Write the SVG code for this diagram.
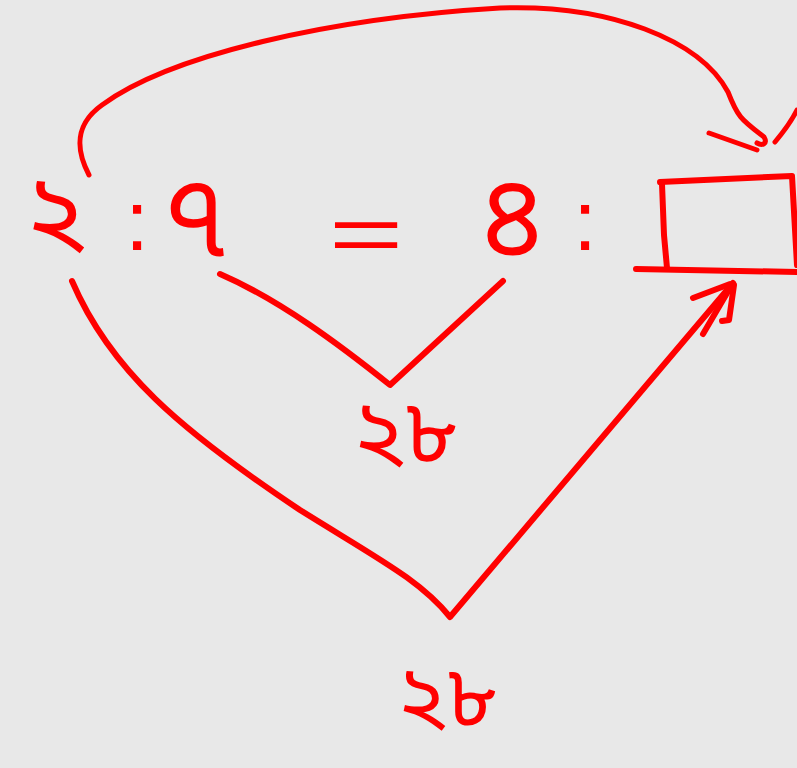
<svg xmlns="http://www.w3.org/2000/svg" width="797" height="768" viewBox="0 0 797 768">
<style>
.ink{fill:none;stroke:#ff0000;stroke-width:6;stroke-linecap:round;stroke-linejoin:round}
.thin{stroke-width:5}
.t{fill:#ff0000;font-family:"Noto Sans Bengali","Noto Sans","DejaVu Sans",sans-serif}
.p{fill:#ff0000;font-family:"Liberation Sans",Arial,sans-serif}
</style>
<rect width="797" height="768" fill="#e8e8e8"/>
<g id="n-two"><text class="t" x="55" y="247" font-size="105" text-anchor="middle">২</text></g>
<g id="n-colon1"><text class="p" x="137" y="250" font-size="85" text-anchor="middle">:</text></g>
<g id="n-seven"><text class="t" x="196" y="255" font-size="115" text-anchor="middle">৭</text></g>
<g id="n-eq"><text class="p" transform="translate(366,261) scale(1.6,1)" font-size="80" text-anchor="middle">=</text></g>
<g id="n-four"><text class="t" x="512" y="255" font-size="115" text-anchor="middle">৪</text></g>
<g id="n-colon2"><text class="p" x="585" y="250" font-size="85" text-anchor="middle">:</text></g>
<g id="n-box">
<path class="ink" d="M660,182 L792,176 L797,265"/>
<path class="ink" d="M662,184 L664,235 L667,268"/>
<path class="ink" d="M636,269 L797,272"/>
</g>
<g id="n-mid"><text class="t" x="405" y="462" font-size="90" text-anchor="middle">২৮</text></g>
<g id="n-bot"><text class="t" x="447" y="726" font-size="86" text-anchor="middle">২৮</text></g>
<g id="connectors">
<path class="ink thin" d="M89,175 C 76,150 74,125 102,105 C 170,55 330,18 500,8 C 610,4 700,40 728,92 C 738,118 742,120 764,137 C 768,144 762,146 757,143"/>
<path class="ink thin" d="M709,133 L757,150"/>
<path class="ink thin" d="M775,142 C 785,130 792,120 797,110"/>
<path class="ink" d="M220,274 C 280,300 340,345 390,385 L503,281"/>
<path class="ink" d="M72,281 C 110,370 180,430 300,510 C 380,560 420,580 450,617 L733,283"/>
<path class="ink" d="M693,298 L730,284"/>
<path class="ink" d="M703,334 L730,288"/>
<path class="ink" d="M734,285 L729,320 L722,321"/>
</g>
</svg>
